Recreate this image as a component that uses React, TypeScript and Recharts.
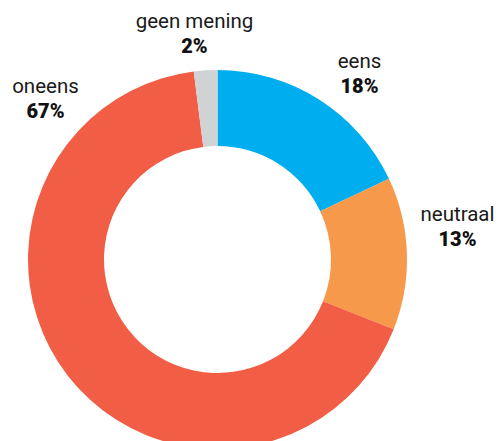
import { PieChart, Pie, Cell } from "recharts";

const categories = ["eens", "neutraal", "oneens", "geen mening"];
const values = [18, 13, 67, 2];
const colors = ["#00AEEF", "#F7994B", "#F15D45", "#D1D2D4"];

// label block centre offsets from the pie centre
const labelOffsets = [
  { dx: 142, dy: -180 },
  { dx: 240, dy: -27 },
  { dx: -172, dy: -155 },
  { dx: -23, dy: -220 },
];

const data = categories.map((name, i) => ({ name, value: values[i] }));

// chart has a 5px default margin, so these are offset by it
const CX = 212.5;
const CY = 254.5;

function renderLabel(props: any) {
  const { index, cx, cy } = props;
  const off = labelOffsets[index];
  const x = cx + off.dx;
  const y = cy + off.dy;
  return (
    <g key={index}>
      <text
        x={x}
        y={y - 12}
        textAnchor="middle"
        fill="#1a1a1a"
        fontSize={20.5}
        fontFamily="Roboto"
      >
        {categories[index]}
      </text>
      <text
        x={x}
        y={y + 13}
        textAnchor="middle"
        fill="#111"
        fontSize={20}
        fontWeight={900}
        fontFamily="Roboto"
      >
        {values[index]}%
      </text>
    </g>
  );
}

export default function App() {
  return (
    <div style={{ position: "absolute", left: 0, top: 0, width: 500, height: 441, background: "#fff" }}>
      <PieChart width={500} height={441}>
        <Pie
          data={data}
          dataKey="value"
          cx={CX}
          cy={CY}
          innerRadius={113.5}
          outerRadius={189.5}
          startAngle={90}
          endAngle={-270}
          stroke="none"
          label={renderLabel}
          labelLine={false}
          isAnimationActive={false}
        >
          {data.map((d, i) => (
            <Cell key={d.name} fill={colors[i]} />
          ))}
        </Pie>
      </PieChart>
    </div>
  );
}
